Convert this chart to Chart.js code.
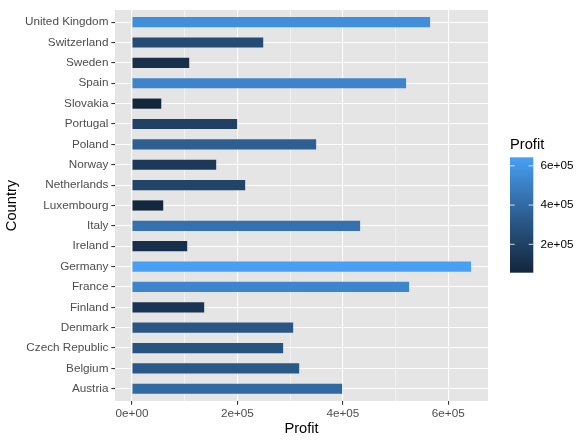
<!DOCTYPE html>
<html lang="en">
<head>
  <meta charset="UTF-8" />
  <title>Profit by Country</title>
  <script src="https://cdn.jsdelivr.net/npm/chart.js"></script>
  <style>
    html, body { margin: 0; padding: 0; background: #fff; }
    #wrap { width: 588px; height: 444px; }
  </style>
</head>
<body>
  <div id="wrap"><canvas id="chart" width="588" height="444"></canvas></div>

  <script>
    // data (bottom to top on the axis)
    const countries = ['Austria', 'Belgium', 'Czech Republic', 'Denmark', 'Finland', 'France',
      'Germany', 'Ireland', 'Italy', 'Luxembourg', 'Netherlands', 'Norway', 'Poland',
      'Portugal', 'Slovakia', 'Spain', 'Sweden', 'Switzerland', 'United Kingdom'];
    const profit = [398700, 317200, 286800, 305800, 137000, 525700,
      643200, 104800, 432800, 59300, 214800, 159800, 349400,
      199600, 55600, 520000, 108600, 249000, 565500];

    const xTicks = [0, 200000, 400000, 600000];
    const xTickLabels = ['0e+00', '2e+05', '4e+05', '6e+05'];
    const xMinor = [100000, 300000, 500000];
    const legendTicks = [200000, 400000, 600000];
    const legendLabels = ['2e+05', '4e+05', '6e+05'];

    // gradient ends as they look in the picture, interpolated in CIELAB
    const lowCol = '#13263C', highCol = '#48A0F5';

    function toLin(c) { c /= 255; return c <= 0.04045 ? c / 12.92 : Math.pow((c + 0.055) / 1.055, 2.4); }
    function fromLin(c) {
      const v = c <= 0.0031308 ? 12.92 * c : 1.055 * Math.pow(c, 1 / 2.4) - 0.055;
      return Math.round(Math.max(0, Math.min(1, v)) * 255);
    }
    function hexToLab(hex) {
      const r = toLin(parseInt(hex.slice(1, 3), 16));
      const g = toLin(parseInt(hex.slice(3, 5), 16));
      const b = toLin(parseInt(hex.slice(5, 7), 16));
      const X = (0.4124564 * r + 0.3575761 * g + 0.1804375 * b) / 0.95047;
      const Y = 0.2126729 * r + 0.7151522 * g + 0.0721750 * b;
      const Z = (0.0193339 * r + 0.1191920 * g + 0.9503041 * b) / 1.08883;
      const f = t => t > 0.008856 ? Math.cbrt(t) : (903.3 * t + 16) / 116;
      const fx = f(X), fy = f(Y), fz = f(Z);
      return [116 * fy - 16, 500 * (fx - fy), 200 * (fy - fz)];
    }
    function labToRgb(lab) {
      const fy = (lab[0] + 16) / 116, fx = fy + lab[1] / 500, fz = fy - lab[2] / 200;
      const inv = t => t * t * t > 0.008856 ? t * t * t : (116 * t - 16) / 903.3;
      const X = inv(fx) * 0.95047, Y = inv(fy), Z = inv(fz) * 1.08883;
      const r = 3.2404542 * X - 1.5371385 * Y - 0.4985314 * Z;
      const g = -0.9692660 * X + 1.8760108 * Y + 0.0415560 * Z;
      const b = 0.0556434 * X - 0.2040259 * Y + 1.0572252 * Z;
      return 'rgb(' + fromLin(r) + ',' + fromLin(g) + ',' + fromLin(b) + ')';
    }
    const labLow = hexToLab(lowCol), labHigh = hexToLab(highCol);
    const vMin = Math.min(...profit), vMax = Math.max(...profit);
    function ramp(t) {
      return labToRgb(labLow.map((v, i) => v + (labHigh[i] - v) * t));
    }
    function colourFor(v) { return ramp((v - vMin) / (vMax - vMin)); }

    const FONT = "'Liberation Sans', Arial, Helvetica, sans-serif";
    Chart.defaults.font.family = FONT;

    // grey panel + colourbar legend
    const ggPanel = {
      id: 'ggPanel',
      beforeDraw(chart) {
        const { ctx, chartArea: a } = chart;
        ctx.save();
        ctx.fillStyle = '#fff';
        ctx.fillRect(0, 0, chart.width, chart.height);
        ctx.fillStyle = '#E5E5E5';
        ctx.fillRect(a.left, a.top, a.right - a.left, a.bottom - a.top);
        ctx.restore();
      },
      afterDraw(chart) {
        const ctx = chart.ctx;
        const bx = 510, by = 157.3, bw = 23.3, bh = 115.4;
        ctx.save();
        ctx.fillStyle = '#000';
        ctx.font = '14.67px ' + FONT;
        ctx.textBaseline = 'middle';
        ctx.textAlign = 'left';
        ctx.fillText('Profit', bx, 145);

        const grad = ctx.createLinearGradient(0, by + bh, 0, by);
        for (let i = 0; i <= 40; i++) grad.addColorStop(i / 40, ramp(i / 40));
        ctx.fillStyle = grad;
        ctx.fillRect(bx, by, bw, bh);

        ctx.strokeStyle = '#fff';
        ctx.lineWidth = 0.8;
        ctx.font = '11.73px ' + FONT;
        ctx.fillStyle = '#000';
        legendTicks.forEach((v, i) => {
          const y = by + bh - (v - vMin) / (vMax - vMin) * bh;
          ctx.beginPath();
          ctx.moveTo(bx, y); ctx.lineTo(bx + bw / 5, y);
          ctx.moveTo(bx + bw * 4 / 5, y); ctx.lineTo(bx + bw, y);
          ctx.stroke();
          ctx.fillText(legendLabels[i], 540.5, y);
        });
        ctx.restore();
      }
    };

    new Chart(document.getElementById('chart'), {
      type: 'bar',
      data: {
        datasets: [{
          label: 'Profit',
          data: profit.map((v, i) => ({ x: v, y: i + 1 })),
          backgroundColor: profit.map(colourFor),
          borderWidth: 0,
          barPercentage: 0.5,
          categoryPercentage: 1.0
        }]
      },
      options: {
        indexAxis: 'y',
        responsive: false,
        animation: false,
        devicePixelRatio: 1,
        layout: { padding: { left: 0, top: 7, right: 100, bottom: 0 } },
        plugins: { legend: { display: false }, tooltip: { enabled: false } },
        scales: {
          x: {
            type: 'linear',
            min: -32160,
            max: 675360,
            afterBuildTicks: s => { s.ticks = xTicks.concat(xMinor).sort((a, b) => a - b).map(v => ({ value: v })); },
            afterFit: s => { s.height = 43; },
            border: { display: false },
            grid: {
              color: '#FFFFFF',
              lineWidth: c => xMinor.includes(c.tick.value) ? 0.55 : 1.1,
              tickColor: c => xMinor.includes(c.tick.value) ? 'rgba(0,0,0,0)' : '#333333',
              tickLength: 3.7,
              tickWidth: 1.1
            },
            ticks: {
              autoSkip: false,
              maxRotation: 0,
              padding: 2.5,
              color: '#4D4D4D',
              font: { size: 11.73 },
              callback: v => { const i = xTicks.indexOf(v); return i < 0 ? '' : xTickLabels[i]; }
            },
            title: {
              display: true,
              text: 'Profit',
              color: '#000',
              font: { size: 14.67 },
              padding: { top: 0, bottom: 6.2 }
            }
          },
          y: {
            type: 'linear',
            min: 0.4,
            max: 19.6,
            offset: false,
            afterBuildTicks: s => { s.ticks = countries.map((c, i) => ({ value: i + 1 })); },
            afterFit: s => { s.width = 115; },
            border: { display: false },
            grid: {
              offset: false,
              color: '#FFFFFF',
              lineWidth: 1.1,
              tickColor: '#333333',
              tickLength: 3.7,
              tickWidth: 1.1
            },
            ticks: {
              autoSkip: false,
              padding: 2.9,
              color: '#4D4D4D',
              font: { size: 11.73 },
              callback: v => countries[v - 1]
            },
            title: {
              display: true,
              text: 'Country',
              color: '#000',
              font: { size: 14.67 },
              padding: { top: 3.2, bottom: 0 }
            }
          }
        }
      },
      plugins: [ggPanel]
    });
  </script>
</body>
</html>
